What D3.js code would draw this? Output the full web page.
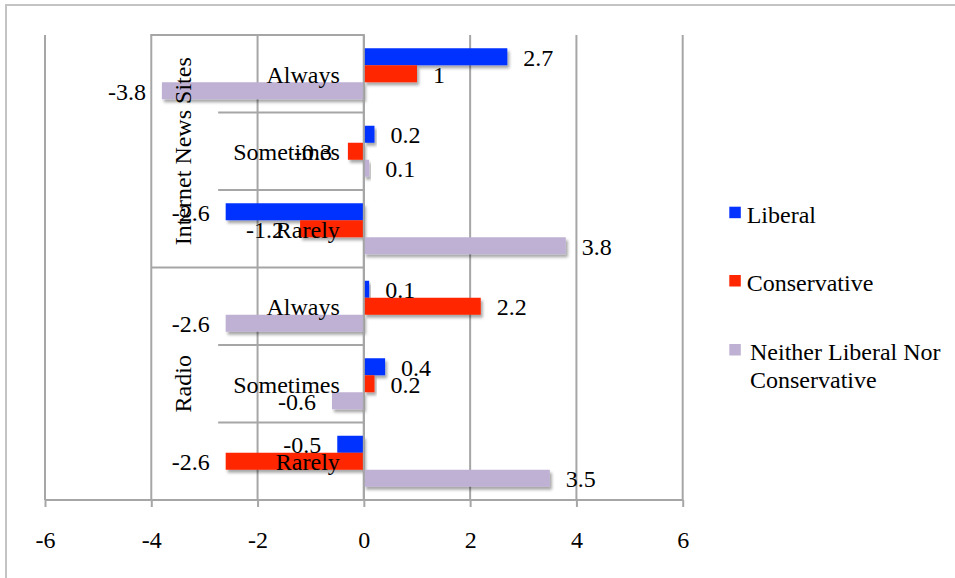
<!DOCTYPE html>
<html>
<head>
<meta charset="utf-8">
<script src="https://cdn.jsdelivr.net/npm/d3@7"></script>
<style>
  html, body { margin: 0; padding: 0; background: #fff; }
  svg text { font-family: "Liberation Serif", "Times New Roman", Times, serif; fill: #000; }
</style>
</head>
<body>
<svg id="chart" width="955" height="578"></svg>
<script>
// ---- data ----
const sources = ["Internet News Sites", "Radio"];
const frequencies = ["Always", "Sometimes", "Rarely"];
const seriesNames = ["Liberal", "Conservative", "Neither Liberal Nor Conservative"];
const liberal      = [2.7, 0.2, -2.6, 0.1, 0.4, -0.5];
const conservative = [1, -0.3, -1.2, 2.2, 0.2, -2.6];
const neither      = [-3.8, 0.1, 3.8, -2.6, -0.6, 3.5];
const xTicks = [-6, -4, -2, 0, 2, 4, 6];
const seriesColors = ["#0433FF", "#FF2600", "#BFB1D4"];

// ---- build table ----
const catKeys = [];
sources.forEach(s => frequencies.forEach(f => catKeys.push(s + "|" + f)));
const seriesValues = [liberal, conservative, neither];
const rows = catKeys.map((k, i) => ({
  key: k, source: k.split("|")[0], freq: k.split("|")[1],
  values: seriesNames.map((n, j) => ({ series: n, value: seriesValues[j][i], color: seriesColors[j] }))
}));

const fmt = v => String(v); // plain hyphen-minus like the reference

const svg = d3.select("#chart");
const FS = 24;
const gridColor = "#a6a6a6";

// frame
svg.append("rect").attr("x", 6).attr("y", 5).attr("width", 1000).attr("height", 1000)
  .attr("fill", "#fff").attr("stroke", "#c4c4c4").attr("stroke-width", 2);

const plotTop = 35, plotBottom = 500;
const x = d3.scaleLinear().domain([-6, 6]).range([45, 682.7]);
const y = d3.scaleBand().domain(catKeys).range([plotTop, plotBottom])
  .paddingInner(0.342).paddingOuter(0.171);
const ySub = d3.scaleBand().domain(seriesNames).range([0, y.bandwidth()]);
const step = y.step();

// shadow filter
const defs = svg.append("defs");
const f = defs.append("filter").attr("id", "shadow").attr("x", "-10%").attr("y", "-30%")
  .attr("width", "130%").attr("height", "180%");
f.append("feDropShadow").attr("dx", 2).attr("dy", 3).attr("stdDeviation", 1.6)
  .attr("flood-color", "#000").attr("flood-opacity", 0.35);

// gridlines
svg.append("g").selectAll("line").data(xTicks).join("line")
  .attr("x1", d => x(d)).attr("x2", d => x(d))
  .attr("y1", plotTop).attr("y2", plotBottom)
  .attr("stroke", gridColor).attr("stroke-width", 2);

// x axis
const xAxis = d3.axisBottom(x).tickValues(xTicks).tickSize(7).tickPadding(24)
  .tickFormat(fmt);
const gx = svg.append("g").attr("transform", `translate(0,${plotBottom})`).call(xAxis);
gx.select(".domain").attr("stroke", gridColor).attr("stroke-width", 2).attr("d", `M${x(-6)},0H${x(6)}`);
gx.selectAll(".tick line").attr("stroke", gridColor).attr("stroke-width", 2);
gx.selectAll(".tick text").attr("font-size", FS).attr("font-family", "Liberation Serif, Times New Roman, serif")
  .attr("fill", "#000").attr("dy", 0).attr("y", 48);

// bars
const gCat = svg.append("g").selectAll("g").data(rows).join("g")
  .attr("transform", d => `translate(0,${y(d.key)})`);
gCat.selectAll("rect").data(d => d.values).join("rect")
  .attr("x", d => Math.min(x(0), x(d.value)))
  .attr("y", d => ySub(d.series))
  .attr("width", d => Math.abs(x(d.value) - x(0)))
  .attr("height", ySub.bandwidth())
  .attr("fill", d => d.color)
  .attr("filter", "url(#shadow)");

// category axis box
const x0 = x(0);
const boxLeft = x(-4);
const lvl1Left = x0 - 145.7;
const box = svg.append("g").attr("stroke", gridColor).attr("stroke-width", 2);
box.append("line").attr("x1", x0).attr("x2", x0).attr("y1", plotTop).attr("y2", plotBottom);
box.append("line").attr("x1", boxLeft - 1).attr("x2", x0 + 1).attr("y1", plotTop).attr("y2", plotTop);
sources.forEach((s, gi) => {
  if (gi > 0) {
    const yy = y(s + "|" + frequencies[0]) - y.paddingInner() * step / 2;
    box.append("line").attr("x1", boxLeft).attr("x2", x0).attr("y1", yy).attr("y2", yy);
  }
  frequencies.forEach((fq, fi) => {
    if (fi > 0) {
      const yy = y(s + "|" + fq) - y.paddingInner() * step / 2;
      box.append("line").attr("x1", lvl1Left).attr("x2", x0).attr("y1", yy).attr("y2", yy);
    }
  });
});

// level-1 labels
svg.append("g").selectAll("text").data(rows).join("text")
  .attr("x", x0 - 24)
  .attr("y", d => y(d.key) + y.bandwidth() / 2 + 9)
  .attr("text-anchor", "end").attr("font-size", FS)
  .text(d => d.freq);

// level-2 labels
svg.append("g").selectAll("text").data(sources).join("text")
  .attr("transform", s => {
    const a = y(s + "|" + frequencies[0]) - y.paddingInner() * step / 2;
    const b = y(s + "|" + frequencies[frequencies.length - 1]) + y.bandwidth() + y.paddingInner() * step / 2;
    return `translate(191,${(a + b) / 2}) rotate(-90)`;
  })
  .attr("text-anchor", "middle").attr("font-size", FS)
  .text(s => s);

// value labels
gCat.selectAll("text.val").data(d => d.values).join("text")
  .attr("class", "val")
  .attr("x", d => d.value >= 0 ? x(d.value) + 16 : x(d.value) - 16)
  .attr("y", d => ySub(d.series) + ySub.bandwidth() / 2 + 9)
  .attr("text-anchor", d => d.value >= 0 ? "start" : "end")
  .attr("font-size", FS)
  .text(d => fmt(d.value));

// legend
const legendY = [222.7, 291, 360];
const lg = svg.append("g").selectAll("g").data(seriesNames).join("g");
lg.append("rect").attr("x", 729.3).attr("y", (d, i) => legendY[i] - 16)
  .attr("width", 11.5).attr("height", 11.5).attr("fill", (d, i) => seriesColors[i]);
lg.append("text").attr("x", (d, i) => i === 2 ? 750 : 746.7).attr("y", (d, i) => legendY[i])
  .attr("font-size", FS)
  .each(function(d, i) {
    const t = d3.select(this);
    if (i === 2) {
      t.append("tspan").attr("x", 750).text("Neither Liberal Nor");
      t.append("tspan").attr("x", 750).attr("dy", 28.3).text("Conservative");
    } else {
      t.text(d);
    }
  });
</script>
</body>
</html>
